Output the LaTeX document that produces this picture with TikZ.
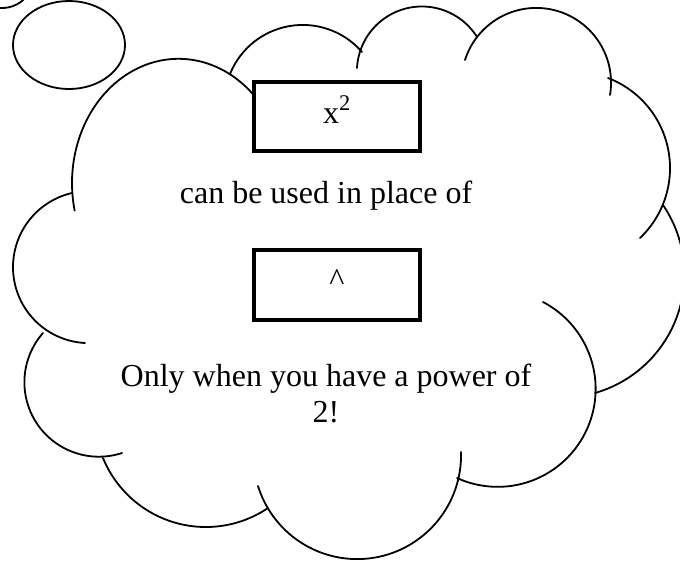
\documentclass[tikz,border=0pt]{standalone}
\usepackage{fontspec}
\setmainfont{Liberation Serif}
% circular arc through three points A (start), B (on the way), C (end), image coordinates
\newcommand\cloudarc[6]{%
  \edef\cD{\fpeval{2*((#1)*((#4)-(#6))+(#3)*((#6)-(#2))+(#5)*((#2)-(#4)))}}%
  \edef\cUx{\fpeval{round((((#1)^2+(#2)^2)*((#4)-(#6))+((#3)^2+(#4)^2)*((#6)-(#2))+((#5)^2+(#6)^2)*((#2)-(#4)))/\cD,3)}}%
  \edef\cUy{\fpeval{round((((#1)^2+(#2)^2)*((#5)-(#3))+((#3)^2+(#4)^2)*((#1)-(#5))+((#5)^2+(#6)^2)*((#3)-(#1)))/\cD,3)}}%
  \edef\cR{\fpeval{round(sqrt(((#1)-\cUx)^2+((#2)-\cUy)^2),3)}}%
  \edef\cta{\fpeval{atand((#2)-\cUy,(#1)-\cUx)}}%
  \edef\ctb{\fpeval{atand((#4)-\cUy,(#3)-\cUx)}}%
  \edef\ctc{\fpeval{atand((#6)-\cUy,(#5)-\cUx)}}%
  \edef\cdone{\fpeval{(\ctb-\cta)-360*floor((\ctb-\cta)/360)}}%
  \edef\cdtwo{\fpeval{(\ctc-\cta)-360*floor((\ctc-\cta)/360)}}%
  \edef\cdelta{\fpeval{\cdone<\cdtwo ? \cdtwo : \cdtwo-360}}%
  \edef\cstart{\fpeval{round(\cta,3)}}%
  \edef\cend{\fpeval{round(\cta+\cdelta,3)}}%
  \draw[cloudline] plot[variable=\t, domain=\cstart:\cend, samples=80]
     ({\cUx+\cR*cos(\t)},{\cUy+\cR*sin(\t)});%
}
% elliptical arc: centre, radii, parametric angles (image coordinates)
\newcommand\cloudell[6]{%
  \draw[cloudline] plot[variable=\t, domain=#5:#6, samples=80]
     ({#1+#3*cos(\t)},{#2+#4*sin(\t)});%
}
\begin{document}
\begin{tikzpicture}[x=0.75pt,y=-0.75pt,
  cloudline/.style={line width=1.35pt, line join=round, line cap=round},
  boxstyle/.style={draw, line width=3pt, fill=white, minimum width=124.5pt, inner sep=0pt},
  txt/.style={font=\fontsize{24}{27.6}\selectfont, inner sep=0pt}]
\useasboundingbox (0,0) rectangle (680,561);
\clip (0,0) rectangle (680,561);
% small bubbles
\draw[cloudline] (2,-24) circle (32);
\draw[cloudline] (69,45) ellipse (56 and 44);
% cloud lobes
\cloudell{178.5}{183}{106.5}{124.2}{167.2}{321}
\cloudarc{230}{74}{300}{25}{362}{52}
\cloudarc{357}{68}{430}{7}{477}{37}
\cloudarc{465}{60}{533}{8}{610}{95}
\cloudarc{608}{78}{670}{167}{640}{238}
\cloudarc{663}{205}{680}{307}{595}{393}
\cloudarc{543}{302}{595}{400}{457}{478}
\cloudarc{461}{452}{353}{559}{258}{486}
\cloudarc{268}{508}{207}{527}{103}{458}
\cloudarc{43}{333}{32}{415}{122}{453}
\cloudarc{72}{193}{13}{267}{85}{343}
% boxes
\node[boxstyle, minimum height=51.75pt, txt, text height=14pt, text depth=4.25pt] (b1) at (337,116.5) {x\textsuperscript{2}};
\node[boxstyle, minimum height=52.5pt, txt, text height=12pt, text depth=4.5pt] (b2) at (337,285) {\textasciicircum};
% texts
\node[txt, anchor=base] (t1) at (326,203) {can be used in place of};
\node[txt, anchor=base] (t2) at (326,386) {Only when you have a power of};
\node[txt, anchor=base] (t3) at (326,422) {2!};
\end{tikzpicture}
\end{document}
